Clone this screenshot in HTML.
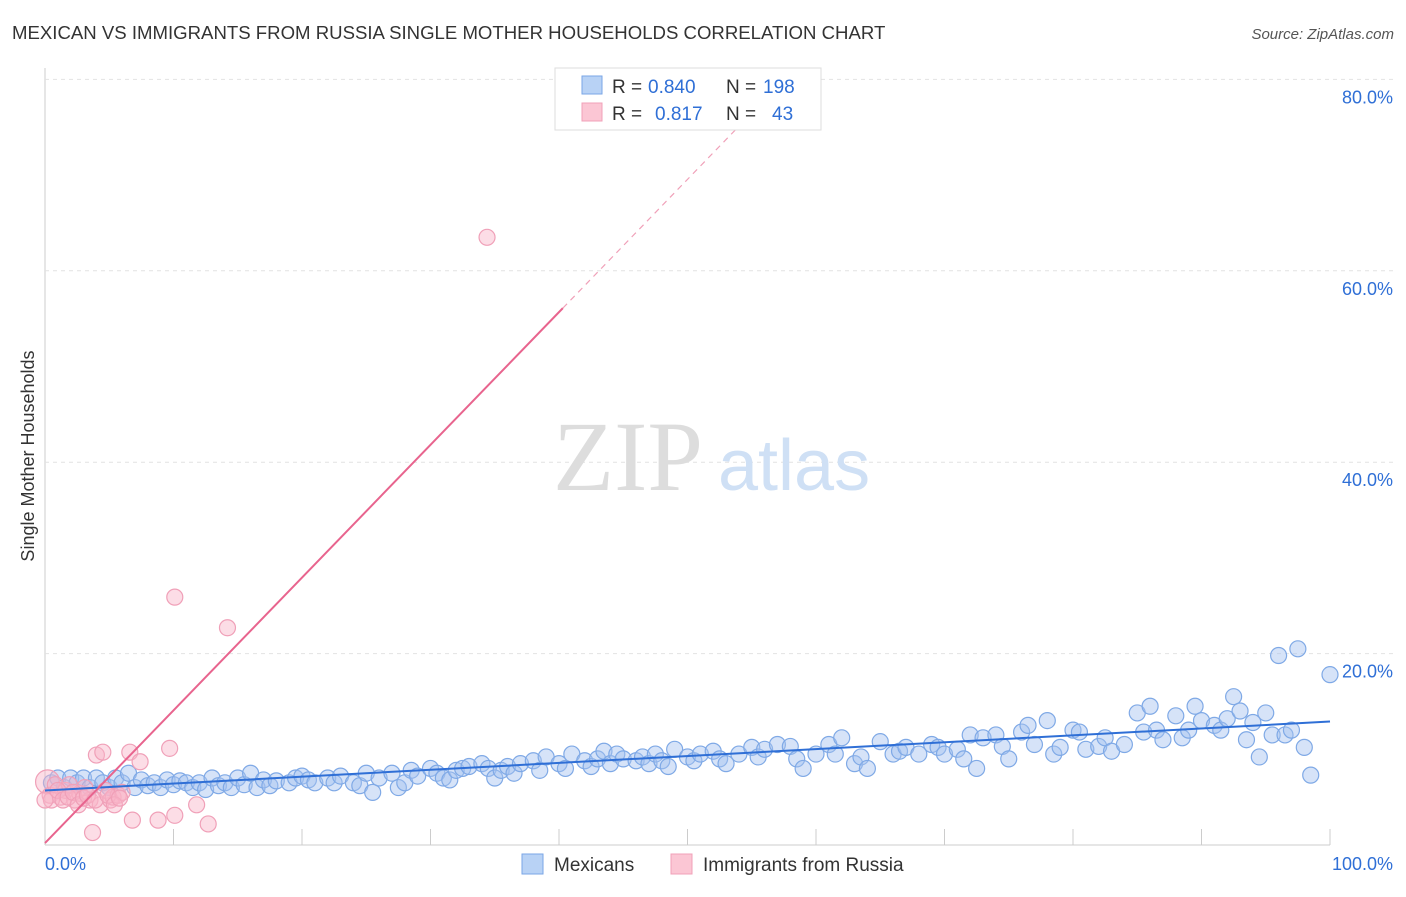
<!DOCTYPE html>
<html><head><meta charset="utf-8"><style>
body{margin:0;background:#fff;font-family:"Liberation Sans",sans-serif;}
</style></head><body>
<svg id="chart" width="1406" height="892" xmlns="http://www.w3.org/2000/svg">
<text x="12" y="39" font-size="18.6" fill="#333">MEXICAN VS IMMIGRANTS FROM RUSSIA SINGLE MOTHER HOUSEHOLDS CORRELATION CHART</text>
<text x="1394" y="39" font-size="15" fill="#555" font-style="italic" text-anchor="end">Source: ZipAtlas.com</text>
<text transform="translate(34,456) rotate(-90)" font-size="18" fill="#333" text-anchor="middle">Single Mother Households</text>
<g id="grid"></g>
<text x="553" y="490" font-size="100" fill="#ddd" font-family="Liberation Serif,serif">ZIP</text>
<text x="718" y="490" font-size="72" fill="#cfe0f5">atlas</text>
<g id="pts"></g>
<g id="lines"></g>
<g>
<rect x="555" y="68" width="266" height="62" fill="#fff" stroke="#ddd"/>
<rect x="582" y="76" width="20" height="18" fill="#b8d2f5" stroke="#7aa6e6"/>
<rect x="582" y="103" width="20" height="18" fill="#fbc6d4" stroke="#f0a0b8"/>
<text x="612" y="93" font-size="19" fill="#333">R =</text>
<text x="648" y="93" font-size="19" fill="#2f6fd6">0.840</text>
<text x="726" y="93" font-size="19" fill="#333">N =</text>
<text x="763" y="93" font-size="19" fill="#2f6fd6">198</text>
<text x="612" y="120" font-size="19" fill="#333">R =</text>
<text x="655" y="120" font-size="19" fill="#2f6fd6">0.817</text>
<text x="726" y="120" font-size="19" fill="#333">N =</text>
<text x="772" y="120" font-size="19" fill="#2f6fd6">43</text>
</g>
<g>
<rect x="522" y="854" width="21" height="20" fill="#b8d2f5" stroke="#7aa6e6"/>
<text x="554" y="871" font-size="19" fill="#333">Mexicans</text>
<rect x="671" y="854" width="21" height="20" fill="#fbc6d4" stroke="#f0a0b8"/>
<text x="703" y="871" font-size="19" fill="#333">Immigrants from Russia</text>
</g>
</svg>
<script>
const yTicks=[20,40,60,80];
const xTickLabels=["0.0%","100.0%"];
const blueX=[0.5,1,1.5,2,2.5,3,3.5,4,4.5,5,5.5,6,6.5,7,7.5,8,8.5,9,9.5,10,10.5,11,11.5,12,12.5,13,13.5,14,14.5,15,15.5,16,16.5,17,17.5,18,19,19.5,20,20.5,21,22,22.5,23,24,24.5,25,25.5,26,27,27.5,28,28.5,29,30,30.5,31,31.5,32,32.5,33,34,34.5,35,35.5,36,36.5,37,38,38.5,39,40,40.5,41,42,42.5,43,43.5,44,44.5,45,46,46.5,47,47.5,48,48.5,49,50,50.5,51,52,52.5,53,54,55,55.5,56,57,58,58.5,59,60,61,61.5,62,63,63.5,64,65,66,66.5,67,68,69,69.5,70,71,71.5,72,72.5,73,74,74.5,75,76,76.5,77,78,78.5,79,80,80.5,81,82,82.5,83,84,85,85.5,86,86.5,87,88,88.5,89,89.5,90,91,91.5,92,92.5,93,93.5,94,94.5,95,95.5,96,96.5,97,97.5,98,98.5,100];
const blueY=[6.5,7,6,7,6.5,7,6,7,6.5,6,7,6.5,7.5,6,6.8,6.2,6.5,6,6.8,6.3,6.7,6.5,6,6.5,5.8,7,6.2,6.5,6,7,6.3,7.5,6,6.8,6.2,6.7,6.5,7,7.2,6.8,6.5,7,6.5,7.2,6.5,6.2,7.5,5.5,7,7.5,6,6.5,7.8,7.2,8,7.5,7,6.8,7.8,8,8.2,8.5,8,7,7.8,8.2,7.5,8.5,8.8,7.8,9.2,8.5,8,9.5,8.8,8.2,9,9.8,8.5,9.5,9,8.8,9.2,8.5,9.5,8.8,8.2,10,9.2,8.8,9.5,9.8,9,8.5,9.5,10.2,9.2,10,10.5,10.3,9,8,9.5,10.5,9.5,11.2,8.5,9.2,8,10.8,9.5,9.8,10.2,9.5,10.5,10.2,9.5,10,9,11.5,8,11.2,11.5,10.3,9,11.8,12.5,10.5,13,9.5,10.2,12,11.8,10,10.3,11.2,9.8,10.5,13.8,11.8,14.5,12,11,13.5,11.2,12,14.5,13,12.5,12,13.2,15.5,14,11,12.8,9.2,13.8,11.5,19.8,11.5,12,20.5,10.2,7.3,17.8];
const pinkX=[0.2,0.4,0.8,1.2,1.6,1.9,2.3,2.7,3.1,3.5,3.7,4,4.3,4.5,4.7,5.1,5.3,5.7,6,6.6,6.8,7.4,8.8,9.7,10.1,10.1,11.8,12.7,14.2,34.4,0.5,1,1.4,1.8,2.2,2.6,3,3.3,3.9,4.9,5.4,5.8,0];
const pinkY=[6.6,5.2,6.3,5,5.7,6.3,4.7,5.4,6,4.7,1.3,9.4,4.2,9.7,5.7,4.7,5,5.2,5.5,9.7,2.6,8.7,2.6,10.1,3.1,25.9,4.2,2.2,22.7,63.5,4.7,5.7,4.7,5,5.5,4.2,4.9,5.2,4.7,5.2,4.2,4.9,4.7];
const blueFit=[5.7,12.9];
const pinkFit=[0.2,56.1,40.3];
const NS="http://www.w3.org/2000/svg";
const X=v=>45+v*12.85, Y=v=>845-v*9.57;
function mk(t,a,p){const e=document.createElementNS(NS,t);for(const k in a)e.setAttribute(k,a[k]);p.appendChild(e);return e;}
const grid=document.getElementById('grid'),pts=document.getElementById('pts'),lines=document.getElementById('lines');
mk('line',{x1:45,y1:68,x2:45,y2:845,stroke:'#ccc'},grid);
mk('line',{x1:45,y1:845,x2:1330,y2:845,stroke:'#ccc'},grid);
yTicks.forEach(t=>{
 const l=mk('line',{x1:45,y1:Y(t),x2:1394,y2:Y(t),stroke:'#e2e2e2','stroke-dasharray':'4,4'},grid);
 
 
 const tx=mk('text',{x:1393,y:Y(t)+24,'font-size':18,fill:'#2f6fd6','text-anchor':'end'},grid);tx.textContent=t.toFixed(1)+'%';
 
 
});
for(let i=1;i<=10;i++){const tk=mk('line',{x1:X(i*10),y1:829,x2:X(i*10),y2:845,stroke:'#ccc'},grid);
 
 }
const x0=mk('text',{x:45,y:870,'font-size':18,fill:'#2f6fd6'},grid);x0.textContent=xTickLabels[0];


const x1=mk('text',{x:1393,y:870,'font-size':18,fill:'#2f6fd6','text-anchor':'end'},grid);x1.textContent=xTickLabels[1];


blueX.forEach((v,i)=>{const c=mk('circle',{cx:X(v),cy:Y(blueY[i]),r:8,fill:'rgba(164,194,240,0.45)',stroke:'#7fa9e6','stroke-width':1.2},pts);
 
 });
pinkX.forEach((v,i)=>{const c=mk('circle',{cx:X(v),cy:Y(pinkY[i]),r:i==0?12:8,fill:'rgba(248,180,200,0.45)',stroke:'#f0a0b8','stroke-width':1.2},pts);
 
 });
const bl=mk('line',{x1:X(0),y1:Y(blueFit[0]),x2:X(100),y2:Y(blueFit[1]),stroke:'#2f6fd6','stroke-width':2},lines);


const slope=(pinkFit[1]-pinkFit[0])/pinkFit[2];
const pl=mk('line',{x1:X(0),y1:Y(pinkFit[0]),x2:X(pinkFit[2]),y2:Y(pinkFit[1]),stroke:'#e8648e','stroke-width':2},lines);


const xe=(75.8-pinkFit[0])/slope;
const pd=mk('line',{x1:X(pinkFit[2]),y1:Y(pinkFit[1]),x2:X(xe),y2:Y(75.8),stroke:'#f0a0b8','stroke-width':1.2,'stroke-dasharray':'6,5'},lines);


</script>
</body></html>
